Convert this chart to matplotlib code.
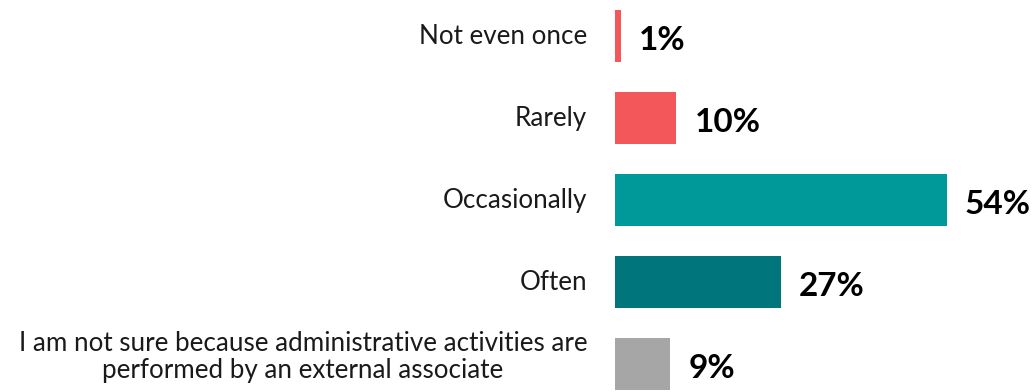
import matplotlib
matplotlib.use("Agg")
import matplotlib.pyplot as plt

# --- Data ---
categories = [
    "Not even once",
    "Rarely",
    "Occasionally",
    "Often",
    "I am not sure because administrative activities are\nperformed by an external associate",
]
values = [1, 10, 54, 27, 9]
colors = ["#F4575A", "#F4575A", "#009999", "#00757C", "#A6A6A6"]

plt.rcParams["font.family"] = ["Lato", "DejaVu Sans"]

fig = plt.figure(figsize=(10.33, 3.92), dpi=100)
ax = fig.add_axes([615 / 1033, 0, 418 / 1033, 1])

pos = list(range(len(values)))
ax.barh(pos, values, height=0.634, color=colors)

ax.set_xlim(0, 68)
ax.set_ylim(4.341, -0.439)

# value labels next to each bar
for y, v in zip(pos, values):
    ax.annotate(f"{v}%", (v, y), xytext=(13, -3), textcoords="offset points",
                ha="left", va="center", fontsize=24, fontweight="bold", color="black")

# category labels on the left (the two-line one sits a little higher)
for y, c in zip(pos, categories):
    dy = 5 if "\n" in c else 0
    ax.annotate(c, (0, y), xytext=(-20, dy), textcoords="offset points",
                ha="right", va="center", fontsize=18.7, color="#1a1a1a",
                multialignment="center", linespacing=1.1, annotation_clip=False)

ax.axis("off")

fig.savefig("out.png", dpi=100)
